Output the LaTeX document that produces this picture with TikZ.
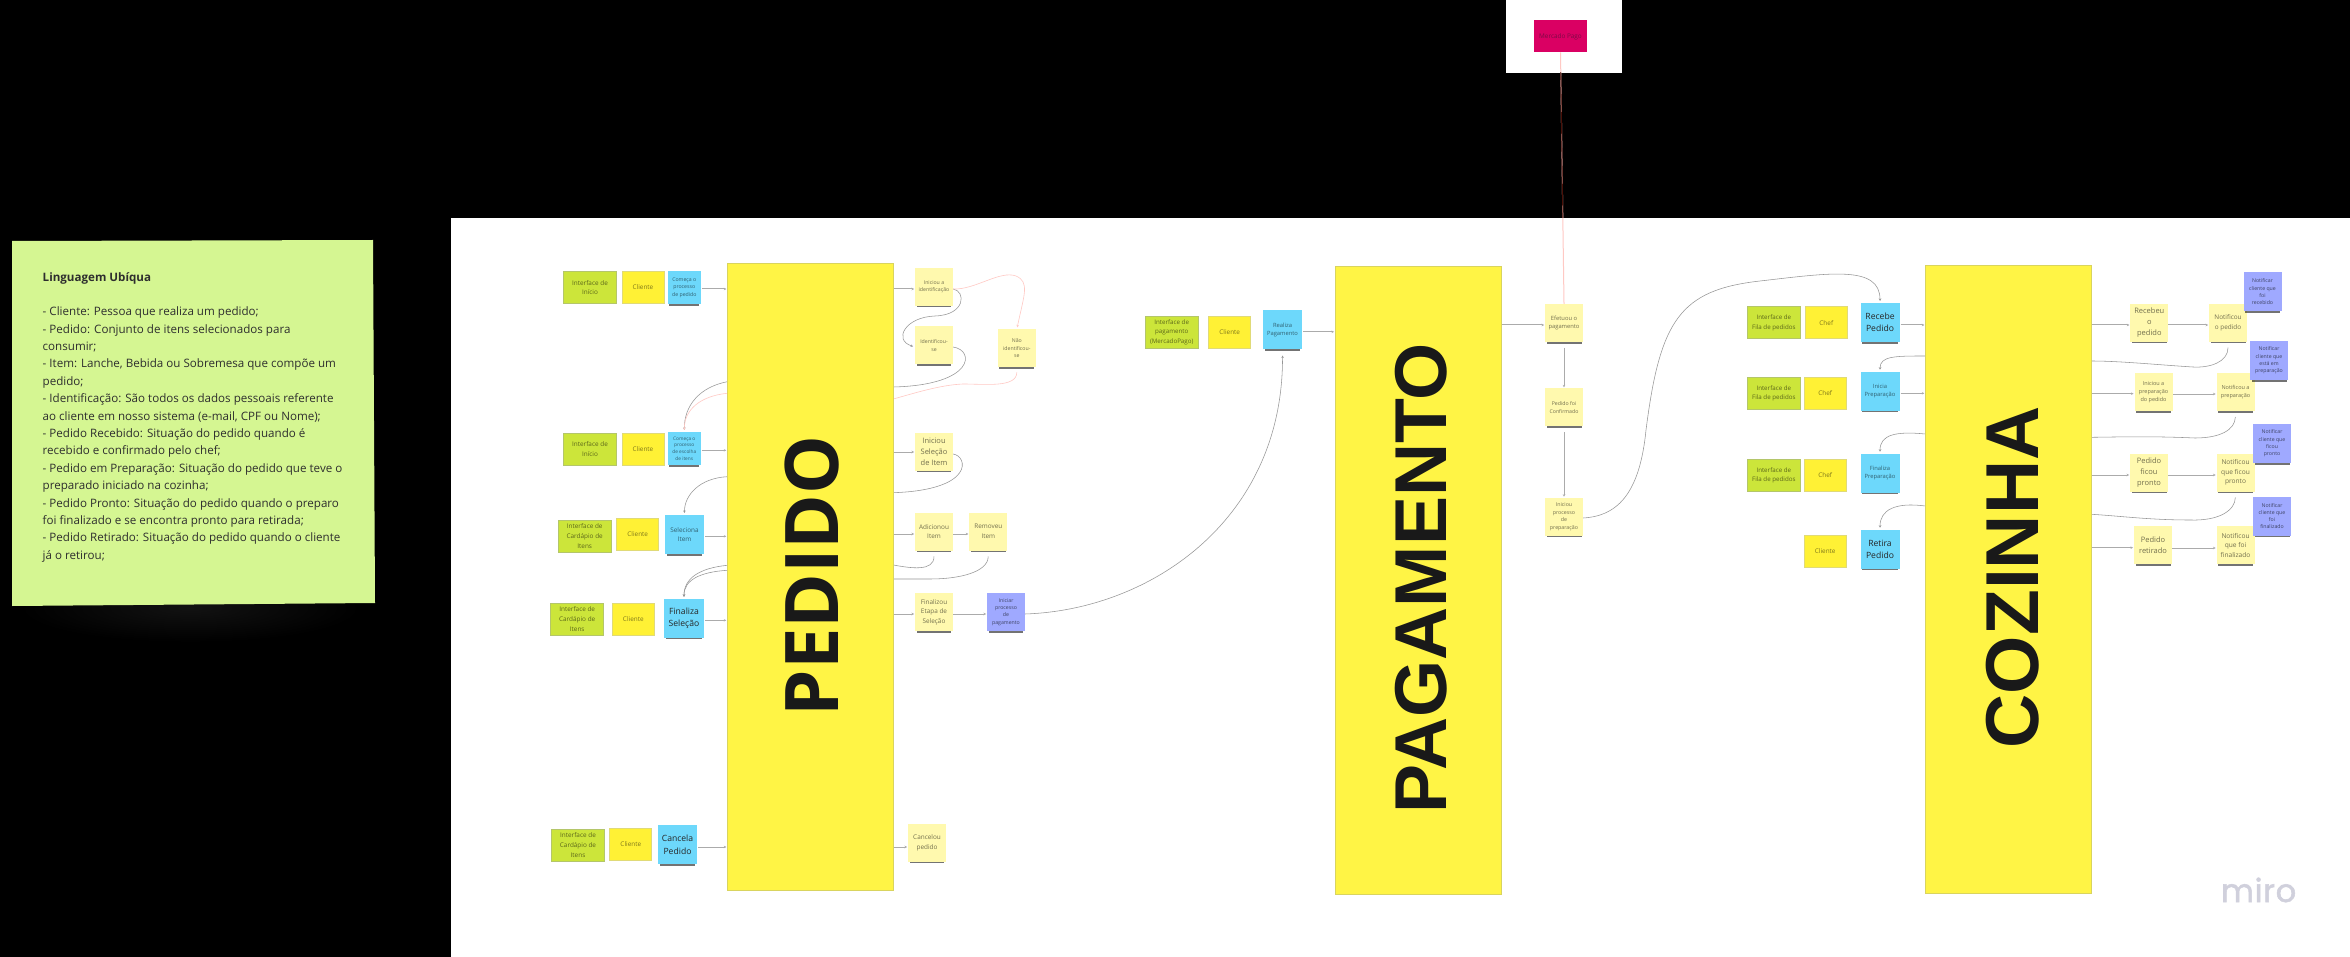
\documentclass[tikz,border=0pt]{standalone}
\usepackage{fontspec}
\setmainfont{Open Sans}
\newfontfamily\logofont[FakeBold=1.6,LetterSpace=2]{Poppins}
\newfontfamily\headfont{Liberation Sans}
\usetikzlibrary{arrows.meta,shadows}
\pgfdeclarelayer{background}
\pgfdeclarelayer{conn}
\pgfsetlayers{background,conn,main}
\definecolor{bigY}{HTML}{FFF445}
\definecolor{bigB}{HTML}{D9D45E}
\definecolor{ifG}{HTML}{CCE53A}
\definecolor{ifB}{HTML}{B4C66A}
\definecolor{acY}{HTML}{FFF135}
\definecolor{acB}{HTML}{E0DA78}
\definecolor{evY}{HTML}{FFF9AE}
\definecolor{cmB}{HTML}{6DD8FB}
\definecolor{puB}{HTML}{9FA9FF}
\definecolor{noteG}{HTML}{D5F692}
\definecolor{flowG}{HTML}{ABABAB}
\definecolor{curveG}{HTML}{969696}
\definecolor{pinkL}{HTML}{FFC9C4}
\definecolor{mpR}{HTML}{DA0063}
\definecolor{mpT}{HTML}{7D0A46}
\definecolor{lineD}{HTML}{4A1008}
\definecolor{logoC}{HTML}{D0D0DC}
\tikzset{
  x=1pt,y=-1pt,
  every node/.style={align=center,inner sep=0pt,outer sep=0pt},
  fa/.style={font=\fontsize{5.2}{7.3}\selectfont},
  fb/.style={font=\fontsize{5.8}{8}\selectfont},
  fc/.style={font=\fontsize{6.4}{9.6}\selectfont},
  fd/.style={font=\fontsize{7.5}{11}\selectfont},
  fe/.style={font=\fontsize{8.6}{12.5}\selectfont},
  sticky/.style={rectangle,drop shadow={shadow xshift=0pt,shadow yshift=-3.5pt,shadow scale=.92,opacity=.55,fill=black}},
  iface/.style={rectangle,fill=ifG,draw=ifB,line width=.7pt,text=ifG!45!black,minimum width=53pt,minimum height=32pt,fc},
  actor/.style={rectangle,fill=acY,draw=acB,line width=.7pt,text=acY!50!black,minimum width=42pt,minimum height=32pt,fc},
  cmd/.style={sticky,fill=cmB,text=cmB!45!black,minimum width=39pt,minimum height=39pt,fc},
  cmdS/.style={cmd,minimum width=33pt,minimum height=33pt,fa},
  cmdK/.style={cmd,text=black!85,fe},
  evt/.style={sticky,fill=evY,text=evY!45!black,minimum width=38pt,minimum height=38pt,fc},
  pur/.style={sticky,fill=puB,text=puB!40!black,minimum width=38pt,minimum height=39pt,fa},
  bigbox/.style={rectangle,fill=bigY,draw=bigB,line width=.7pt,minimum width=166pt,minimum height=628pt},
  bigtxt/.style={rotate=90,text=black!90,font=\fontsize{74}{74}\selectfont\bfseries},
  panel/.style={rectangle,fill=white},
  flow/.style={draw=flowG,line width=1pt,shorten >=1pt,-{Stealth[length=2.5pt,width=2.5pt]}},
  curve/.style={draw=curveG,line width=.55pt,shorten >=2pt,-{Stealth[length=2.5pt,width=2.5pt]}},
  pinkc/.style={draw=pinkL,line width=.6pt,shorten >=2pt,-{Stealth[length=2.5pt,width=2.5pt]}},
}
\begin{document}
\begin{tikzpicture}
\useasboundingbox (0,0) rectangle (2350,957);
\begin{pgfonlayer}{background}
  \fill[black] (0,0) rectangle (2350,957);
  \shade[inner color=black!93,outer color=black,draw=none] (190,608) ellipse [x radius=170,y radius=34];
  \node[panel,minimum width=1899.5pt,minimum height=739pt] (board) at (1400.25,587.5) {};
  \node[panel,minimum width=115.5pt,minimum height=73pt] (mpanel) at (1564,36.5) {};
\end{pgfonlayer}
% note
\fill[noteG] (12,241) -- (373,240) -- (375,603) -- (12,606) -- cycle;
\node[anchor=north west,align=left,text=black!82,font=\fontsize{11.6}{17.4}\selectfont] (note) at (42.7,272.5) {\textbf{Linguagem Ubíqua}\\[17pt]
- Cliente: Pessoa que realiza um pedido;\\
- Pedido: Conjunto de itens selecionados para\\
consumir;\\
- Item: Lanche, Bebida ou Sobremesa que compõe um\\
pedido;\\
- Identificação: São todos os dados pessoais referente\\
ao cliente em nosso sistema (e-mail, CPF ou Nome);\\
- Pedido Recebido: Situação do pedido quando é\\
recebido e confirmado pelo chef;\\
- Pedido em Preparação: Situação do pedido que teve o\\
preparado iniciado na cozinha;\\
- Pedido Pronto: Situação do pedido quando o preparo\\
foi finalizado e se encontra pronto para retirada;\\
- Pedido Retirado: Situação do pedido quando o cliente\\
já o retirou;};
% big boxes
\node[bigbox,minimum height=627pt] (pedido) at (810.3,576.5) {};
\node[bigtxt] (pedidoT) at (812.5,576) {PEDIDO};
\node[bigbox] (pagam) at (1418,580) {};
\node[bigtxt,font=\fontsize{73.5}{74}\selectfont\headfont\bfseries] (pagamT) at (1421,578.5) {PAGAMENTO};
\node[bigbox,minimum width=166.4pt] (cozinha) at (2008.5,579.7) {};
\node[bigtxt,font=\fontsize{75}{75}\selectfont\headfont\bfseries] (cozinhaT) at (2013,577.5) {COZINHA};
% pedido left
\node[iface] (if1) at (590,287.5) {Interface de\\Início};
\node[actor] (ac1) at (643,287.5) {Cliente};
\node[cmdS] (cm1) at (684.3,287.7) {Começa o\\processo\\de pedido};
\node[iface] (if2) at (590,449) {Interface de\\Início};
\node[actor] (ac2) at (643,449) {Cliente};
\node[cmdS,font=\fontsize{4.8}{6.6}\selectfont] (cm2) at (684.3,448.5) {Começa o\\processo\\de escolha\\de itens};
\node[iface] (if3) at (584.7,536) {Interface de\\Cardápio de\\Itens};
\node[actor] (ac3) at (637.7,534) {Cliente};
\node[cmd] (cm3) at (684.5,534.5) {Seleciona\\Item};
\node[iface] (if4) at (577.2,619) {Interface de\\Cardápio de\\Itens};
\node[actor] (ac4) at (633.3,619) {Cliente};
\node[cmdK,minimum width=40pt] (cm4) at (684,618.3) {Finaliza\\Seleção};
\node[iface] (if5) at (578,845) {Interface de\\Cardápio de\\Itens};
\node[actor] (ac5) at (630.8,844.3) {Cliente};
\node[cmdK] (cm5) at (677.5,844.7) {Cancela\\Pedido};
% pedido right
\node[evt,fa] (iid) at (934,286.7) {Iniciou a\\identificação};
\node[evt,fa] (idf) at (934,345.5) {Identificou-\\se};
\node[evt,fa] (nao) at (1016.8,348.3) {Não\\identificou-\\se};
\node[evt,fd] (isl) at (934,451.7) {Iniciou\\Seleção\\de Item};
\node[evt] (adi) at (934,531.5) {Adicionou\\Item};
\node[evt] (rem) at (988.3,531.5) {Removeu\\Item};
\node[evt] (fin) at (934,612) {Finalizou\\Etapa de\\Seleção};
\node[pur,minimum width=38pt,minimum height=38pt] (ipg) at (1006,612) {Iniciar\\processo\\de\\pagamento};
\node[evt] (can) at (927,842.7) {Cancelou\\pedido};
% pagamento
\node[iface,font=\fontsize{6.2}{9.6}\selectfont] (ifp) at (1171.7,332) {Interface de\\pagamento\\(MercadoPago)};
\node[actor] (acp) at (1229.7,332) {Cliente};
\node[cmd,fb] (rpg) at (1282.5,330) {Realiza\\Pagamento};
\node[evt,fb] (efe) at (1564,322.8) {Efetuou o\\pagamento};
\node[evt,fa] (cnf) at (1564,407.4) {Pedido foi\\Confirmado};
\node[evt,font=\fontsize{5.3}{7.9}\selectfont] (ipr) at (1564,516.7) {Iniciou\\processo\\de\\preparação};
\node[rectangle,fill=mpR,text=mpT,minimum width=53pt,minimum height=32pt,fc] (mp) at (1560.5,36.5) {Mercado Pago};
% cozinha left
\node[iface,font=\fontsize{6.2}{9.6}\selectfont] (if6) at (1773.8,322.7) {Interface de\\Fila de pedidos};
\node[actor] (ac6) at (1826.3,322.7) {Chef};
\node[cmdK] (rcb) at (1880,322.5) {Recebe\\Pedido};
\node[iface,font=\fontsize{6.2}{9.6}\selectfont] (if7) at (1773.8,393.3) {Interface de\\Fila de pedidos};
\node[actor] (ac7) at (1825.2,393.3) {Chef};
\node[cmd,fb] (ini) at (1880,391.2) {Inicia\\Preparação};
\node[iface,font=\fontsize{6.2}{9.6}\selectfont] (if8) at (1773.8,475.3) {Interface de\\Fila de pedidos};
\node[actor] (ac8) at (1825.2,475.3) {Chef};
\node[cmd,fb] (fnl) at (1880,473.2) {Finaliza\\Preparação};
\node[actor] (ac9) at (1825.2,551.3) {Cliente};
\node[cmdK] (ret) at (1880,549.2) {Retira\\Pedido};
% cozinha right
\node[evt,fd] (rcd) at (2149.3,322.7) {Recebeu\\o\\pedido};
\node[evt] (nt1) at (2228,322.7) {Notificou\\o pedido};
\node[evt,font=\fontsize{5.5}{7.9}\selectfont] (ipp) at (2153.5,392.2) {Iniciou a\\preparação\\do pedido};
\node[evt,font=\fontsize{5.5}{7.9}\selectfont] (nt2) at (2235.5,392) {Notificou a\\preparação};
\node[evt,fd] (pfp) at (2149,472.5) {Pedido\\ficou\\pronto};
\node[evt,font=\fontsize{6.6}{9.6}\selectfont] (nt3) at (2235.5,472.5) {Notificou\\que ficou\\pronto};
\node[evt,fd] (prt) at (2153,545) {Pedido\\retirado};
\node[evt,font=\fontsize{6.6}{9.6}\selectfont] (nt4) at (2235.5,545.3) {Notificou\\que foi\\finalizado};
\node[pur] (pn1) at (2262.5,291.7) {Notificar\\cliente que\\foi\\recebido};
\node[pur] (pn2) at (2269,360.5) {Notificar\\cliente que\\está em\\preparação};
\node[pur] (pn3) at (2272,443.5) {Notificar\\cliente que\\ficou\\pronto};
\node[pur] (pn4) at (2272,516) {Notificar\\cliente que\\foi\\finalizado};
% logo
\node[anchor=base west,text=logoC,font=\fontsize{32}{32}\selectfont\logofont] (miro) at (2221,902) {miro};
% connectors
\begin{pgfonlayer}{conn}
\draw[pinkL,line width=1pt] (mp.south) -- (efe.north);
\begin{scope}
  \clip (1400,73) rectangle (1700,218);
  \draw[lineD,line width=.8pt] (mp.south) -- (efe.north);
\end{scope}
% pedido straight
\draw[flow] (cm1.east |- 0,289) ++(1,0) -- (pedido.west |- 0,289);
\draw[flow] (cm2.east |- 0,450.3) ++(1,0) -- (pedido.west |- 0,450.3);
\draw[flow] (cm3.east |- 0,536.3) ++(1,0) -- (pedido.west |- 0,536.3);
\draw[flow] (cm4.east |- 0,620.3) ++(1,0) -- (pedido.west |- 0,620.3);
\draw[flow] (cm5.east |- 0,847) ++(1,0) -- (pedido.west |- 0,847);
\draw[flow] (pedido.east |- 0,289) -- (iid.west |- 0,289);
\draw[flow] (pedido.east |- 0,452) -- (isl.west |- 0,452);
\draw[flow] (pedido.east |- 0,534) -- (adi.west |- 0,534);
\draw[flow] (adi.east |- 0,534) -- (rem.west |- 0,534);
\draw[flow] (pedido.east |- 0,614) -- (fin.west |- 0,614);
\draw[flow] (fin.east |- 0,614) -- (ipg.west |- 0,614);
\draw[flow] (pedido.east |- 0,847) -- (can.west |- 0,847);
% pedido curves
\draw[curve] (iid.east |- 0,289) .. controls (966,291) and (966,315) .. (935,316) .. controls (905,317) and (893,340) .. (idf.west |- 0,347);
\draw[pinkc] (iid.east |- 0,289) .. controls (975,290) and (1000,270) .. (1016,276) .. controls (1030,282) and (1024,295) .. (nao.north);
\draw[curve] (idf.east |- 0,347) .. controls (975,350) and (975,385) .. (pedido.east |- 0,387) -- (pedido.west |- 0,381.7) .. controls (700,387) and (684.3,405) .. (cm2.north);
\draw[pinkc,shorten <=5pt] (nao.south) .. controls (1016.8,388) and (985,384) .. (963,384) .. controls (940,385) and (915,393) .. (pedido.east |- 0,399) -- (pedido.west |- 0,393.3) .. controls (700,396) and (684.3,410) .. (cm2.north);
\draw[curve] (isl.east |- 0,454) .. controls (968,456) and (975,490) .. (pedido.east |- 0,492.7) -- (pedido.west |- 0,476.7) .. controls (700,478) and (684.3,495) .. (cm3.north);
\draw[curve,shorten <=6pt] (adi.south) .. controls (934,572) and (910,568) .. (pedido.east |- 0,565) -- (pedido.west |- 0,565.3) .. controls (700,568) and (684,578) .. (cm4.north);
\draw[curve,shorten <=6pt] (rem.south) .. controls (988,572) and (960,579) .. (930,579) -- (pedido.east |- 0,579) -- (pedido.west |- 0,570.3) .. controls (700,572) and (684,580) .. (cm4.north);
\draw[curve,shorten >=6pt] (ipg.east |- 0,614) .. controls (1150,610) and (1283,520) .. (rpg.south) ;
% pagamento
\draw[flow] (rpg.east |- 0,331.8) ++(1,0) -- (pagam.west |- 0,331.8);
\draw[flow] (pagam.east |- 0,325) -- (efe.west |- 0,325);
\draw[flow,shorten <=6pt] (efe.south) -- (cnf.north);
\draw[flow,shorten <=6pt] (cnf.south) -- (ipr.north);
\draw[curve] (ipr.east |- 0,518) .. controls (1620,516) and (1640,490) .. (1646,430) .. controls (1660,320) and (1680,290) .. (1760,281) .. controls (1830,273) and (1880,265) .. (rcb.north);
% cozinha left
\draw[flow] (rcb.east |- 0,325) ++(1,0) -- (cozinha.west |- 0,325);
\draw[flow] (ini.east |- 0,393.3) ++(1,0) -- (cozinha.west |- 0,393.3);
% cozinha right
\draw[flow] (cozinha.east |- 0,325) -- (rcd.west |- 0,325);
\draw[flow] (rcd.east |- 0,325) -- (nt1.west |- 0,325);
\draw[flow] (cozinha.east |- 0,393.7) -- (ipp.west |- 0,393.7);
\draw[flow] (ipp.east |- 0,394) -- (nt2.west |- 0,394);
\draw[flow] (cozinha.east |- 0,475) -- (pfp.west |- 0,475);
\draw[flow] (pfp.east |- 0,475) -- (nt3.west |- 0,475);
\draw[flow] (cozinha.east |- 0,547.7) -- (prt.west |- 0,547.7);
\draw[flow] (prt.east |- 0,548) -- (nt4.west |- 0,548);
\draw[curve,shorten <=6pt] (nt1.south) .. controls (2228,362) and (2210,368) .. (2193,367) .. controls (2160,365) and (2120,361) .. (cozinha.east |- 0,361) -- (cozinha.west |- 0,356) .. controls (1895,356) and (1880,356) .. (ini.north);
\draw[curve,shorten <=6pt] (nt2.south) .. controls (2235,430) and (2220,438) .. (2195,438) .. controls (2150,436) and (2120,437) .. (cozinha.east |- 0,437.3) -- (cozinha.west |- 0,434) .. controls (1895,431) and (1880,435) .. (fnl.north);
\draw[curve,shorten <=6pt] (nt3.south) .. controls (2235,510) and (2220,521) .. (2190,520) .. controls (2150,520) and (2120,516) .. (cozinha.east |- 0,514.3) -- (cozinha.west |- 0,506) .. controls (1895,502) and (1880,510) .. (ret.north);
\end{pgfonlayer}
\end{tikzpicture}
\end{document}
